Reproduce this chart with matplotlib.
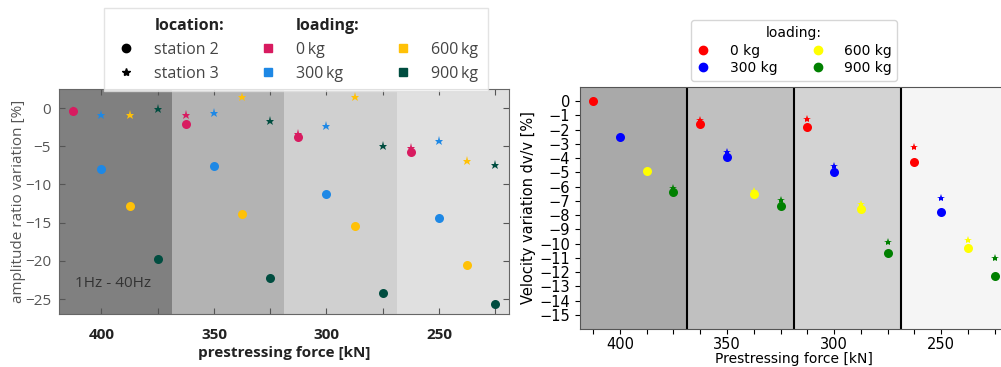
import numpy as np
import matplotlib
matplotlib.use('Agg')
import matplotlib.pyplot as plt
from matplotlib.lines import Line2D

# prestressing force steps [kN], loading cycles 0/300/600/900 kg
force = [412.5, 400, 387.5, 375, 362.5, 350, 337.5, 325,
         312.5, 300, 287.5, 275, 262.5, 250, 237.5, 225]
loads = ['0 kg', '300 kg', '600 kg', '900 kg']

# amplitude ratio variation [%]
amp_st2 = [-0.4, -8.0, -12.8, -19.8, -2.1, -7.6, -13.9, -22.3,
           -3.8, -11.3, -15.4, -24.2, -5.8, -14.4, -20.6, -25.7]
amp_st3 = [-0.4, -0.95, -0.87, -0.13, -0.9, -0.7, 1.5, -1.7,
           -3.4, -2.4, 1.5, -4.9, -5.2, -4.3, -6.9, -7.4]

# velocity variation dv/v [%]
dvv_st2 = [0.0, -2.5, -4.9, -6.35, -1.6, -3.9, -6.55, -7.35,
           -1.8, -5.0, -7.6, -10.7, -4.3, -7.8, -10.3, -12.3]
dvv_st3 = [0.0, -2.5, -4.9, -6.1, -1.35, -3.55, -6.3, -6.95,
           -1.25, -4.55, -7.25, -9.9, -3.25, -6.8, -9.75, -11.05]

band_edges = [418.75, 368.75, 318.75, 268.75, 218.75]

colors_l = ['#D81B60', '#1E88E5', '#FFC107', '#004D40']
bands_l = ['#808080', '#b3b3b3', '#d0d0d0', '#e0e0e0']
colors_r = ['red', 'blue', 'yellow', 'green']
bands_r = ['darkgray', 'silver', 'lightgray', 'whitesmoke']

fig = plt.figure(figsize=(10.01, 3.67), dpi=100)

# ---------------- left panel ----------------
lf = ['Open Sans', 'DejaVu Sans']
txt_gray = '#555555'
ax1 = fig.add_axes([0.0592, 0.1436, 0.4496, 0.6139])
for i in range(4):
    ax1.axvspan(band_edges[i], band_edges[i + 1], color=bands_l[i], lw=0, zorder=0)

for k in range(len(force)):
    c = colors_l[k % 4]
    ax1.plot(force[k], amp_st3[k], '*', color=c, ms=6.5, mew=0, zorder=2)
    ax1.plot(force[k], amp_st2[k], 'o', color=c, ms=6.5, mew=0, zorder=3)

ax1.set_xlim(418.75, 218.75)
ax1.set_ylim(-27, 2.5)
xt = np.arange(400, 220, -25)
ax1.set_xticks(xt)
ax1.set_xticklabels([str(int(v)) if v % 50 == 0 else '' for v in xt],
                    fontfamily=lf, fontweight='bold', fontsize=11, color='#222222')
ax1.set_yticks([0, -5, -10, -15, -20, -25])
ax1.set_yticklabels(['0', '\u22125', '\u221210', '\u221215', '\u221220', '\u221225'],
                    fontfamily=lf, fontsize=11, color=txt_gray)
ax1.tick_params(direction='in', top=True, right=True, length=4, color='#555555', pad=10)
ax1.tick_params(axis='y', pad=6)
for s in ax1.spines.values():
    s.set_color('#666666')
ax1.set_xlabel('prestressing force [kN]', fontfamily=lf, fontweight='bold',
               fontsize=11, color='#222222', labelpad=3)
ax1.set_ylabel('amplitude ratio variation [%]', fontfamily=lf, fontsize=11,
               color=txt_gray, labelpad=-1)
ax1.text(411.7, -23, '1Hz - 40Hz', fontfamily=lf, fontsize=11, color='#333333',
         ha='left', va='center')

blank = Line2D([], [], linestyle='none')
handles = [blank,
           Line2D([], [], marker='o', color='black', linestyle='none', ms=6),
           Line2D([], [], marker='*', color='black', linestyle='none', ms=6),
           blank]
labels = ['location:', 'station 2', 'station 3', 'loading:']
for i in range(2):
    handles.append(Line2D([], [], marker='s', color=colors_l[i], linestyle='none', ms=6))
    labels.append(loads[i].replace(' ', '\u2009'))
handles.append(blank)
labels.append(' ')
for i in range(2, 4):
    handles.append(Line2D([], [], marker='s', color=colors_l[i], linestyle='none', ms=6))
    labels.append(loads[i].replace(' ', '\u2009'))

leg1 = fig.legend(handles, labels, ncol=3, loc='upper left',
                  bbox_to_anchor=(104 / 1001, 1 - 8 / 367),
                  prop={'family': lf, 'size': 11.5}, frameon=True,
                  labelspacing=0.5, columnspacing=1.95, handlelength=1.6,
                  handletextpad=0.95, borderpad=0.6, borderaxespad=0,
                  fancybox=False)
leg1.get_frame().set_edgecolor('#dddddd')
for t in leg1.get_texts():
    t.set_color('#444444')
    if t.get_text().endswith(':'):
        t.set_fontweight('bold')
        t.set_color('#222222')
ax1.set_zorder(3)

# ---------------- right panel ----------------
ax2 = fig.add_axes([0.5792, 0.1035, 0.428, 0.660])
for i in range(4):
    ax2.axvspan(band_edges[i], band_edges[i + 1], color=bands_r[i], lw=0, zorder=0)
for e in band_edges[1:4]:
    ax2.axvline(e, color='black', lw=1.5, zorder=1)

for k in range(len(force)):
    c = colors_r[k % 4]
    ax2.plot(force[k], dvv_st3[k], '*', color=c, ms=6, mew=0, zorder=2)
    ax2.plot(force[k], dvv_st2[k], 'o', color=c, ms=6.5, mew=0, zorder=3)

ax2.set_xlim(418.75, 218.75)
ax2.set_ylim(-16, 1)
xt2 = np.arange(412.5, 220, -12.5)
ax2.set_xticks(xt2)
ax2.set_xticklabels([str(int(v)) if v % 50 == 0 else '' for v in xt2], fontsize=10.5)
ax2.set_yticks(np.arange(0, -16, -1))
ax2.set_yticklabels([str(v).replace('-', '\u2212') for v in range(0, -16, -1)], fontsize=10.5)
ax2.tick_params(length=3.5)
ax2.tick_params(axis='x', pad=2.5)
for s in ax2.spines.values():
    s.set_color('#555555')
ax2.set_xlabel('Prestressing force [kN]', fontsize=10, labelpad=0)
ax2.set_ylabel('Velocity variation dv/v [%]', fontsize=10.5, labelpad=2)

h2 = [Line2D([], [], marker='o', color=c, linestyle='none', ms=6) for c in colors_r]
leg2 = ax2.legend(h2, loads, ncol=2, title='loading:', loc='lower center',
                  bbox_to_anchor=(0.5, 1.0), fontsize=10, title_fontsize=10,
                  labelspacing=0.25, columnspacing=2.4, handlelength=1.0,
                  handletextpad=1.4, borderpad=0.4, borderaxespad=0.45)

fig.savefig('out.png', dpi=100)
